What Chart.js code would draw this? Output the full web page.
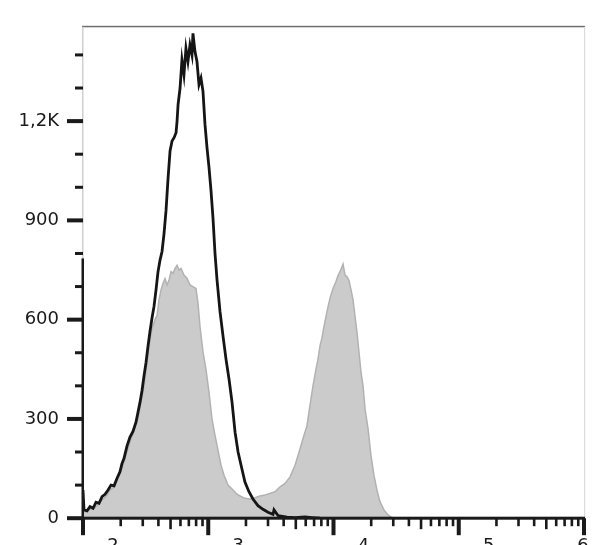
<!DOCTYPE html>
<html><head><meta charset="utf-8">
<script src="https://cdn.jsdelivr.net/npm/chart.js@4"></script>
<style>html,body{margin:0;padding:0;background:#fff;overflow:hidden}</style>
</head><body>
<canvas id="c" width="608" height="545" style="width:608px;height:545px;display:block"></canvas>
<script>
// x axis: log10 decades and their (cropped) exponent labels
const decades = [2, 3, 4, 5, 6];
const xTickLabels = ['2', '3', '4', '5', '6'];
// y axis
const yTickValues = [0, 300, 600, 900, 1200];
const yTickLabels = ['0', '300', '600', '900', '1,2K'];

// black outline histogram (log10 of fluorescence, count)
const blackExp = [2.000,2.008,2.032,2.056,2.080,2.104,2.128,2.152,2.176,2.200,2.224,2.248,2.271,2.295,2.311,2.327,2.351,2.375,2.399,2.423,2.439,2.455,2.471,2.487,2.503,2.519,2.535,2.551,2.567,2.583,2.599,2.615,2.631,2.647,2.663,2.679,2.695,2.711,2.727,2.743,2.751,2.759,2.775,2.790,2.806,2.822,2.838,2.854,2.870,2.878,2.894,2.910,2.926,2.942,2.958,2.974,2.990,3.006,3.022,3.038,3.054,3.070,3.094,3.118,3.142,3.166,3.190,3.214,3.238,3.262,3.293,3.325,3.357,3.397,3.437,3.477,3.517,3.525,3.557,3.629,3.693,3.772,3.828,3.892];
const blackCounts = [85,25,22,35,30,48,45,65,72,85,100,98,120,140,165,180,218,245,262,290,320,350,385,430,470,520,565,605,640,690,745,780,806,860,930,1027,1110,1140,1150,1165,1200,1250,1300,1385,1340,1420,1380,1430,1400,1465,1410,1380,1310,1330,1290,1190,1120,1060,990,906,800,720,624,550,480,420,350,260,200,160,109,80,58,38,27,18,12,25,8,3,2,4,2,0];

// gray filled histogram
const grayExp = [2.000,2.024,2.056,2.088,2.120,2.152,2.184,2.216,2.248,2.279,2.311,2.343,2.375,2.407,2.439,2.463,2.487,2.511,2.535,2.551,2.575,2.591,2.607,2.623,2.639,2.655,2.671,2.687,2.703,2.719,2.735,2.751,2.767,2.783,2.806,2.830,2.854,2.878,2.902,2.918,2.934,2.958,2.982,3.006,3.030,3.054,3.078,3.102,3.126,3.158,3.190,3.222,3.254,3.293,3.333,3.373,3.413,3.453,3.493,3.533,3.573,3.613,3.653,3.693,3.733,3.764,3.788,3.812,3.836,3.860,3.876,3.892,3.908,3.924,3.948,3.972,3.996,4.020,4.036,4.052,4.068,4.076,4.092,4.108,4.124,4.140,4.156,4.172,4.188,4.204,4.220,4.236,4.252,4.276,4.299,4.323,4.347,4.371,4.403,4.435,4.467,4.499];
const grayCounts = [18,20,28,30,40,55,65,85,95,120,150,190,230,265,300,350,400,470,540,573,600,612,660,690,710,724,705,720,745,740,755,764,750,755,735,725,705,700,694,650,580,503,450,380,300,250,205,160,130,100,88,75,67,60,58,62,67,70,75,80,95,105,125,160,210,250,279,340,400,450,480,521,545,580,624,665,694,715,733,745,760,768,735,730,718,690,660,610,560,500,440,400,330,270,190,130,85,50,25,10,2,0];

const toPts = (ex, ys) => ex.map((e, i) => ({ x: Math.pow(10, e), y: ys[i] }));

const framePlugin = {
  id: 'frame',
  afterDraw(chart) {
    const ctx = chart.ctx;
    const xs = chart.scales.x, ys = chart.scales.y;
    const a = chart.chartArea;
    ctx.save();
    // top border
    ctx.fillStyle = '#6e6e6e';
    ctx.fillRect(a.left - 1, a.top - 1, a.right - a.left + 2, 1.5);
    // right border
    ctx.fillStyle = '#dcdcdc';
    ctx.fillRect(a.right, a.top, 1.2, a.bottom - a.top);
    // left border: faint above, dark below
    ctx.fillStyle = '#d0d0d0';
    ctx.fillRect(a.left - 1, a.top, 1.5, a.bottom - a.top);
    const yDark = ys.getPixelForValue(785);
    ctx.fillStyle = '#1a1a1a';
    ctx.fillRect(a.left - 1.5, yDark, 2.5, a.bottom - yDark);
    // x baseline
    ctx.fillRect(a.left - 1, a.bottom - 1.5, a.right - a.left + 2, 3);
    // y ticks
    for (let v = 0; v <= 1400; v += 100) {
      const py = ys.getPixelForValue(v);
      if (v % 300 === 0) ctx.fillRect(a.left - 16, py - 2, 16, 4);
      else ctx.fillRect(a.left - 8, py - 1.5, 8, 3);
    }
    // x ticks
    for (let d = decades[0]; d < decades[decades.length - 1]; d++) {
      for (let k = 1; k <= 9; k++) {
        const px = xs.getPixelForValue(k * Math.pow(10, d));
        if (k === 1) ctx.fillRect(px - 2, a.bottom, 4, 17);
        else if (k === 5) ctx.fillRect(px - 1.3, a.bottom, 2.6, 11);
        else ctx.fillRect(px - 1.3, a.bottom, 2.6, 8);
      }
    }
    const pLast = xs.getPixelForValue(Math.pow(10, decades[decades.length - 1]));
    ctx.fillRect(pLast - 2, a.bottom, 4, 17);
    // x labels (exponents, cropped by image bottom)
    ctx.fillStyle = '#1a1a1a';
    ctx.font = '18px "DejaVu Sans"';
    ctx.textAlign = 'center';
    ctx.textBaseline = 'top';
    decades.forEach((d, i) => {
      const px = xs.getPixelForValue(Math.pow(10, d));
      const lx = Math.min(px + 30, chart.width - 25);
      ctx.fillText(xTickLabels[i], lx, 537);
    });
    ctx.restore();
  }
};

new Chart(document.getElementById('c'), {
  type: 'line',
  data: {
    datasets: [
      {
        label: 'Stained',
        data: toPts(blackExp, blackCounts),
        borderColor: '#151515',
        borderWidth: 2.8,
        fill: false,
        pointRadius: 0,
        tension: 0,
        order: 0
      },
      {
        label: 'Control',
        data: toPts(grayExp, grayCounts),
        borderColor: '#b2b2b2',
        backgroundColor: '#cbcbcb',
        borderWidth: 1.5,
        fill: 'origin',
        pointRadius: 0,
        tension: 0,
        order: 1
      }
    ]
  },
  options: {
    responsive: false,
    animation: false,
    layout: { padding: { top: 25, right: 24, left: 0, bottom: 0 } },
    plugins: { legend: { display: false }, tooltip: { enabled: false } },
    scales: {
      x: {
        type: 'logarithmic',
        min: 100,
        max: 1000000,
        ticks: { display: false },
        grid: { display: false },
        border: { display: false },
        afterFit: s => { s.height = 25; }
      },
      y: {
        min: 0,
        max: 1485,
        afterBuildTicks: s => { s.ticks = yTickValues.map(v => ({ value: v })); },
        ticks: {
          callback: (v) => { const i = yTickValues.indexOf(v); return i >= 0 ? yTickLabels[i] : ''; },
          color: '#1a1a1a',
          font: { family: '"DejaVu Sans"', size: 18 },
          padding: 16
        },
        grid: { display: false },
        border: { display: false },
        afterFit: s => { s.width = 83; }
      }
    }
  },
  plugins: [framePlugin]
});
</script>
</body></html>
